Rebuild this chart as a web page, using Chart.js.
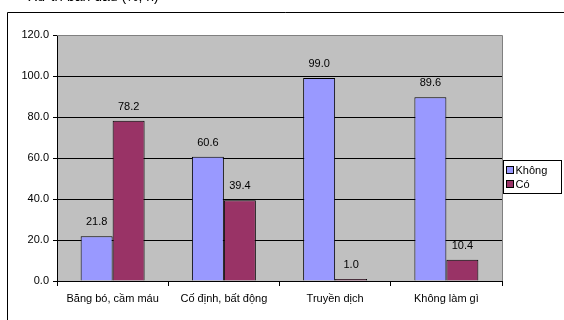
<!DOCTYPE html>
<html>
<head>
<meta charset="utf-8">
<script src="https://cdn.jsdelivr.net/npm/chart.js@4/dist/chart.umd.min.js"></script>
<style>
  html, body { margin: 0; padding: 0; background: #fff; }
  #wrap { width: 564px; height: 320px; position: relative; }
</style>
</head>
<body>
<div id="wrap"><canvas id="c" width="564" height="320"></canvas></div>
<script>
// Categories and series (%)
const categories = ['Băng bó, cầm máu', 'Cố định, bất động', 'Truyền dịch', 'Không làm gì'];
const khongValues = [21.8, 60.6, 99.0, 89.6];
const coValues = [78.2, 39.4, 1.0, 10.4];
const seriesNames = ['Không', 'Có'];
const yTicks = [0, 20, 40, 60, 80, 100, 120];
const titleText = 'Xử trí ban đầu (%, n)';

const FONT = 'Liberation Sans, Arial, sans-serif';

// Gray plot background, outer frame, title, value labels and legend box
const decor = {
  id: 'decor',
  beforeDraw(chart) {
    const { ctx, chartArea: a } = chart;
    ctx.save();
    ctx.fillStyle = '#fff';
    ctx.fillRect(0, 0, chart.width, chart.height);
    ctx.fillStyle = '#c0c0c0';
    ctx.fillRect(a.left, a.top, a.right - a.left, a.bottom - a.top);
    ctx.restore();
  },
  afterDatasetsDraw(chart) {
    const { ctx, chartArea: a } = chart;
    ctx.save();
    // plot border
    ctx.strokeStyle = '#808080';
    ctx.lineWidth = 1;
    ctx.beginPath();
    ctx.moveTo(a.left, a.top + 0.5);
    ctx.lineTo(a.right + 0.5, a.top + 0.5);
    ctx.lineTo(a.right + 0.5, a.bottom);
    ctx.stroke();
    // value labels
    ctx.fillStyle = '#000';
    ctx.font = '11px ' + FONT;
    ctx.textAlign = 'center';
    ctx.textBaseline = 'alphabetic';
    chart.data.datasets.forEach((ds, i) => {
      chart.getDatasetMeta(i).data.forEach((bar, j) => {
        ctx.fillText(ds.data[j].toFixed(1), bar.x, bar.y - 11);
      });
    });
    ctx.restore();
  },
  afterDraw(chart) {
    const { ctx } = chart;
    ctx.save();
    // outer frame (top and left edges)
    ctx.strokeStyle = '#000';
    ctx.lineWidth = 1;
    ctx.beginPath();
    ctx.moveTo(7.5, chart.height);
    ctx.lineTo(7.5, 12.5);
    ctx.lineTo(chart.width, 12.5);
    ctx.stroke();
    // title, running off the top edge
    ctx.fillStyle = '#000';
    ctx.font = '14px ' + FONT;
    ctx.textBaseline = 'alphabetic';
    ctx.textAlign = 'left';
    ctx.fillText(titleText, 28, 0.5);
    // legend
    const lx = 503.5, ly = 160.5, lw = 58, lh = 33;
    ctx.fillStyle = '#fff';
    ctx.fillRect(lx, ly, lw, lh);
    ctx.strokeStyle = '#000';
    ctx.strokeRect(lx, ly, lw, lh);
    ctx.textAlign = 'left';
    ctx.textBaseline = 'middle';
    chart.data.datasets.forEach((ds, i) => {
      const cy = ly + 9.5 + i * 14;
      ctx.fillStyle = ds.backgroundColor;
      ctx.fillRect(lx + 3, cy - 3.5, 7, 7);
      ctx.strokeStyle = '#000';
      ctx.strokeRect(lx + 3, cy - 3.5, 7, 7);
      ctx.fillStyle = '#000';
      ctx.font = '11px ' + FONT;
      ctx.fillText(ds.label, lx + 12, cy + 0.5);
    });
    ctx.restore();
  }
};

new Chart(document.getElementById('c'), {
  type: 'bar',
  data: {
    labels: categories,
    datasets: [
      { label: seriesNames[0], data: khongValues, backgroundColor: '#9999ff', borderColor: '#000', borderWidth: 1 },
      { label: seriesNames[1], data: coValues, backgroundColor: '#993366', borderColor: '#000', borderWidth: 1 }
    ]
  },
  options: {
    responsive: false,
    animation: false,
    devicePixelRatio: 1,
    layout: { padding: { top: 35, right: 62, left: 0, bottom: 0 } },
    datasets: { bar: { barPercentage: 1.0, categoryPercentage: 0.575 } },
    plugins: { legend: { display: false }, tooltip: { enabled: false }, title: { display: false } },
    scales: {
      x: {
        grid: { drawOnChartArea: false, color: '#000', tickLength: 5, offset: true },
        border: { color: '#000' },
        ticks: { color: '#000', font: { family: FONT, size: 11 }, padding: 6, maxRotation: 0, autoSkip: false },
        afterFit(s) { s.height = 39; }
      },
      y: {
        min: 0, max: 120,
        afterBuildTicks(s) { s.ticks = yTicks.map(v => ({ value: v })); },
        grid: { color: '#000', tickLength: 4 },
        border: { color: '#000' },
        ticks: { color: '#000', font: { family: FONT, size: 11 }, padding: 4, callback: v => Number(v).toFixed(1) },
        afterFit(s) { s.width = 57; }
      }
    }
  },
  plugins: [decor]
});
</script>
</body>
</html>
